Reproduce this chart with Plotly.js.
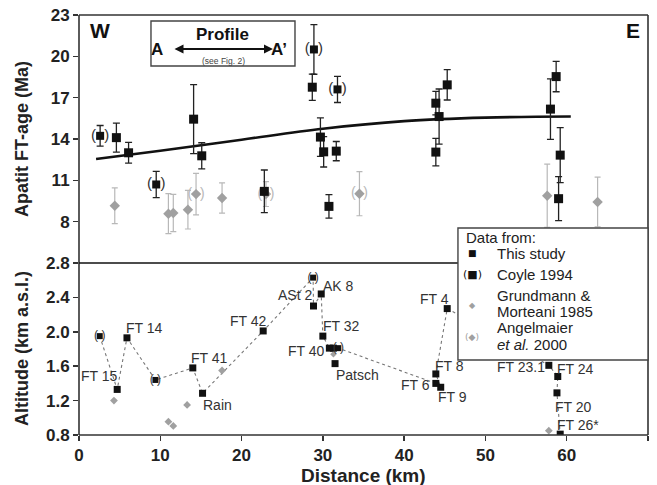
<!DOCTYPE html>
<html><head><meta charset="utf-8">
<script src="https://cdn.plot.ly/plotly-3.0.1.min.js"></script>
<style>html,body{margin:0;padding:0;background:#fff}#chart{width:657px;height:485px}</style>
</head><body><div id="chart"></div>
<script>
// ---- Upper panel: apatite FT ages (Ma) ----
const thisDistAge = [4.6, 6.1, 14.1, 15.1, 22.8, 28.7, 29.7, 30.1, 31.65, 30.75, 43.9, 44.3, 43.9, 45.3, 58.0, 58.7, 59.2, 59.0];
const thisAge     = [14.1, 13.0, 15.44, 12.78, 10.2, 17.76, 14.14, 13.07, 13.12, 9.11, 16.6, 15.63, 13.05, 17.93, 16.17, 18.53, 12.83, 9.67];
const thisAgeErr  = [1.05, 0.75, 2.5, 0.95, 1.55, 0.95, 1.4, 1.1, 0.7, 0.85, 0.85, 2.0, 1.0, 1.1, 2.2, 1.1, 2.0, 1.6];

const coyleDistAge = [2.6, 9.5, 28.9, 31.8];
const coyleAge     = [14.23, 10.7, 20.5, 17.6];
const coyleAgeErr  = [0.75, 0.95, 1.8, 0.95];

const grundDistAge = [4.4, 11.0, 11.6, 13.4, 17.6, 57.6, 63.8];
const grundAge     = [9.16, 8.58, 8.63, 8.87, 9.72, 9.88, 9.43];
const grundAgeErr  = [1.3, 1.45, 1.35, 1.4, 1.1, 2.3, 1.8];

const angelDistAge = [14.4, 23.0, 34.5];
const angelAge     = [10.0, 10.0, 10.03];
const angelAgeErr  = [1.5, 0.9, 1.6];

const trendDist = [2.1, 10, 20, 30, 40, 50, 60.5];
const trendAge  = [12.55, 13.15, 13.95, 14.75, 15.3, 15.55, 15.63];

// ---- Lower panel: altitude (km a.s.l.) ----
const thisNames   = ['FT 15','FT 14','FT 41','Rain','FT 42','ASt 2','AK 8','FT 32','Patsch','','FT 40','FT 8','FT 9','FT 6','FT 4','FT 23.1','FT 24','FT 20','FT 26*'];
const thisDistAlt = [4.7, 5.9, 14.0, 15.2, 22.66, 28.85, 29.8, 30.0, 31.5, 31.3, 30.8, 43.9, 44.5, 43.9, 45.3, 57.8, 58.9, 58.8, 59.2];
const thisAlt     = [1.33, 1.93, 1.58, 1.285, 2.01, 2.30, 2.44, 1.95, 1.63, 1.81, 1.81, 1.51, 1.355, 1.40, 2.27, 1.61, 1.48, 1.29, 0.81];

const coyleDistAlt = [2.55, 9.4, 28.8, 31.9];
const coyleAlt     = [1.95, 1.44, 2.63, 1.81];

const grundDistAlt = [4.3, 11.0, 11.6, 13.3, 17.6, 57.8];
const grundAlt     = [1.2, 0.955, 0.905, 1.15, 1.55, 0.85];

const angelDistAlt = [31.3];
const angelAlt     = [1.74];

const profileDist = [2.55, 4.7, 5.9, 9.4, 14.0, 15.2, 22.66, 28.8, 28.85, 29.8, 30.0, 30.8, 31.9, 43.9, 44.5, 43.9, 45.3, 57.8, 58.9, 58.8, 59.2];
const profileAlt  = [1.95, 1.33, 1.93, 1.44, 1.58, 1.285, 2.01, 2.63, 2.30, 2.44, 1.95, 1.81, 1.81, 1.40, 1.355, 1.51, 2.27, 1.61, 1.48, 1.29, 0.81];

const xTicks = [0, 10, 20, 30, 40, 50, 60, 70];
const ageTicks = [8, 11, 14, 17, 20, 23];
const altTicks = [0.8, 1.2, 1.6, 2.0, 2.4, 2.8];

// label pixel offsets (style, same order as thisNames)
const labelShift = [[-18,13],[18,10],[17,10],[15,-12],[-15,10],[-19,11],[17,8],[19,10],[22,-11],[0,0],[-23,-3],[14,8],[12,-10],[-20,-2],[-13,10],[-28,-2],[18,8],[17,-14],[18,9]];

const FONT = 'Liberation Sans, Arial, sans-serif';
const BLACK = '#111', GRAY = '#a0a0a0', LGRAY = '#b8b8b8';

const traces = [
  // upper
  {x: trendDist, y: trendAge, xaxis:'x', yaxis:'y2', mode:'lines', line:{color:'#111', width:2.6, shape:'spline'}, hoverinfo:'skip'},
  {x: grundDistAge, y: grundAge, xaxis:'x', yaxis:'y2', mode:'markers',
   marker:{symbol:'diamond', size:8, color:GRAY},
   error_y:{type:'data', array:grundAgeErr, visible:true, color:LGRAY, thickness:1.2, width:3}},
  {x: angelDistAge, y: angelAge, xaxis:'x', yaxis:'y2', mode:'markers+text', text:angelAge.map(()=>'(  )'),
   textposition:'middle center', textfont:{family:FONT, size:14, color:LGRAY},
   marker:{symbol:'diamond', size:8, color:GRAY},
   error_y:{type:'data', array:angelAgeErr, visible:true, color:LGRAY, thickness:1.2, width:3}},
  {x: thisDistAge, y: thisAge, xaxis:'x', yaxis:'y2', mode:'markers',
   marker:{symbol:'square', size:9, color:BLACK},
   error_y:{type:'data', array:thisAgeErr, visible:true, color:'#222', thickness:1.3, width:3.5}},
  {x: coyleDistAge, y: coyleAge, xaxis:'x', yaxis:'y2', mode:'markers+text', text:coyleAge.map(()=>'(  )'),
   textposition:'middle center', textfont:{family:FONT, size:15, color:'#333'},
   marker:{symbol:'square', size:8, color:BLACK},
   error_y:{type:'data', array:coyleAgeErr, visible:true, color:'#222', thickness:1.3, width:3.5}},
  // lower
  {x: profileDist, y: profileAlt, xaxis:'x', yaxis:'y', mode:'lines', line:{color:'#777', width:1.1, dash:'dot'}, hoverinfo:'skip'},
  {x: grundDistAlt, y: grundAlt, xaxis:'x', yaxis:'y', mode:'markers', marker:{symbol:'diamond', size:6, color:GRAY}},
  {x: angelDistAlt, y: angelAlt, xaxis:'x', yaxis:'y', mode:'markers', marker:{symbol:'diamond', size:5, color:GRAY}},
  {x: thisDistAlt, y: thisAlt, xaxis:'x', yaxis:'y', mode:'markers', marker:{symbol:'square', size:7, color:BLACK}},
  {x: coyleDistAlt, y: coyleAlt, xaxis:'x', yaxis:'y', mode:'markers+text', text:coyleAlt.map(()=>'( )'),
   textposition:'middle center', textfont:{family:FONT, size:12, color:'#333'},
   marker:{symbol:'square', size:6, color:BLACK}}
];

const annotations = [];
thisNames.forEach((n,i)=>{
  if(!n) return;
  annotations.push({xref:'x', yref:'y', x:thisDistAlt[i], y:thisAlt[i], text:n, showarrow:false,
    xanchor:'center', yanchor:'middle',
    xshift:labelShift[i][0], yshift:labelShift[i][1], font:{family:FONT, size:14, color:'#333'}});
});
function ann(x,y,text,opt){ annotations.push(Object.assign({xref:'paper', yref:'paper', x:x, y:y, text:text, showarrow:false, xanchor:'center', yanchor:'middle', font:{family:FONT, size:15, color:'#222'}}, opt||{})); }
// axis titles
ann(0, 0.7048, 'Apatit FT-age (Ma)', {xshift:-57, textangle:-90, font:{family:FONT, size:18, color:'#222', weight:'bold'}});
ann(0, 0.2048, 'Altitude (km a.s.l.)', {xshift:-57, textangle:-90, font:{family:FONT, size:18, color:'#222', weight:'bold'}});
ann(0.5, 0, 'Distance (km)', {yshift:-40, font:{family:FONT, size:19, color:'#222', weight:'bold'}});
// W / E
ann(0.0158, 0.964, 'W', {xanchor:'left', font:{family:FONT, size:21, color:'#111', weight:'bold'}});
ann(0.9728, 0.964, 'E', {font:{family:FONT, size:21, color:'#111', weight:'bold'}});
// profile box
ann(0.253, 0.9545, 'Profile', {font:{family:FONT, size:17, color:'#111', weight:'bold'}});
ann(0.1371, 0.919, 'A', {font:{family:FONT, size:17, color:'#111', weight:'bold'}});
ann(0.3515, 0.919, 'A\u2019', {font:{family:FONT, size:17, color:'#111', weight:'bold'}});
ann(0.2531, 0.8905, '(see Fig. 2)', {font:{family:FONT, size:8.5, color:'#444'}});
annotations.push({xref:'paper', yref:'paper', x:0.3409, y:0.919, ax:-100, ay:0, text:'', showarrow:true, arrowside:'end+start', arrowhead:2, arrowsize:1, arrowwidth:1.8, arrowcolor:'#111', standoff:0, startstandoff:0});
// legend
ann(0.6766, 0.4714, 'Data from:', {xanchor:'left'});
ann(0.6907, 0.4333, '\u25A0', {font:{family:'DejaVu Sans', size:9, color:'#111'}});
ann(0.7311, 0.4333, 'This study', {xanchor:'left'});
ann(0.6907, 0.381, '(\u25A0)', {font:{family:'DejaVu Sans', size:11, color:'#111'}});
ann(0.7311, 0.381, 'Coyle 1994', {xanchor:'left'});
ann(0.6907, 0.3095, '\u25C6', {font:{family:'DejaVu Sans', size:8, color:GRAY}});
ann(0.7311, 0.331, 'Grundmann &', {xanchor:'left'});
ann(0.7311, 0.2929, 'Morteani 1985', {xanchor:'left'});
ann(0.6907, 0.2333, '(\u25C6)', {font:{family:'DejaVu Sans', size:9, color:GRAY}});
ann(0.7311, 0.2548, 'Angelmaier', {xanchor:'left'});
ann(0.7311, 0.2143, '<i>et al.</i> 2000', {xanchor:'left'});

const DIV = 0.4095;
const frame = {color:'#333', width:1.6};
const shapes = [
  {type:'line', xref:'paper', yref:'paper', x0:0, x1:1, y0:0, y1:0, line:frame, layer:'above'},
  {type:'line', xref:'paper', yref:'paper', x0:0, x1:1, y0:1, y1:1, line:frame, layer:'above'},
  {type:'line', xref:'paper', yref:'paper', x0:0, x1:0, y0:0, y1:1, line:frame, layer:'above'},
  {type:'line', xref:'paper', yref:'paper', x0:1, x1:1, y0:0, y1:1, line:frame, layer:'above'},
  {type:'line', xref:'paper', yref:'paper', x0:0, x1:1, y0:DIV, y1:DIV, line:{color:'#111', width:1.6}, layer:'above'},
  {type:'rect', xref:'paper', yref:'paper', x0:0.1265, x1:0.3796, y0:0.8786, y1:0.9857, line:{color:'#444', width:1.4}, fillcolor:'rgba(0,0,0,0)', layer:'above'},
  {type:'rect', xref:'paper', yref:'paper', x0:0.666, x1:1, y0:0.1786, y1:0.4929, line:{color:'#444', width:1.4}, fillcolor:'#fff', layer:'above'}
];

const tickFont = {family:FONT, size:17, color:'#222', weight:'bold'};
const layout = {
  width:657, height:485, margin:{l:79, r:9, t:15, b:50},
  paper_bgcolor:'#fff', plot_bgcolor:'#fff', showlegend:false,
  xaxis:{range:[0,70], tickvals:xTicks, ticktext:xTicks.map(String), ticks:'outside', ticklen:5, tickwidth:1.5, tickcolor:'#333',
         showgrid:false, zeroline:false, showline:false, anchor:'y', tickfont:tickFont},
  yaxis:{domain:[0,DIV], range:[0.8,2.8], tickvals:altTicks, ticktext:altTicks.map(v=>v.toFixed(1)), ticks:'outside', ticklen:5, tickwidth:1.5, tickcolor:'#333',
         showgrid:false, zeroline:false, showline:false, anchor:'x', tickfont:tickFont},
  yaxis2:{domain:[DIV,1], range:[5,23], tickvals:ageTicks, ticktext:ageTicks.map(String), ticks:'outside', ticklen:5, tickwidth:1.5, tickcolor:'#333',
         showgrid:false, zeroline:false, showline:false, anchor:'x', tickfont:tickFont},
  annotations:annotations, shapes:shapes
};
Plotly.newPlot('chart', traces, layout, {staticPlot:true, displayModeBar:false});
</script></body></html>
